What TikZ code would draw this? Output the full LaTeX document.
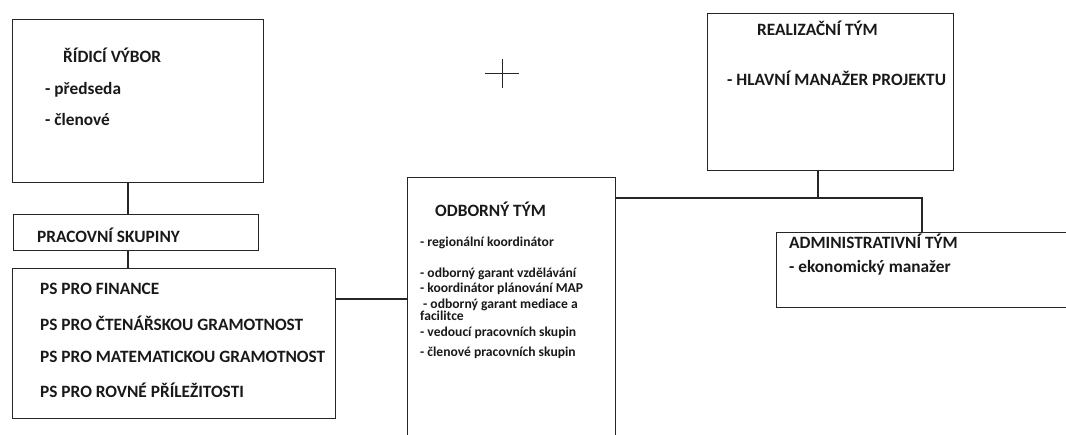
\documentclass[tikz,border=0pt]{standalone}
\usepackage{fontspec}
\setmainfont{Carlito}
\begin{document}
\begin{tikzpicture}[x=1pt,y=-1pt,
  box/.style={draw=black!85, line width=1.2pt, inner sep=0pt, anchor=north west},
  conn/.style={draw=black!85, line width=1.2pt},
  lbl/.style={inner sep=0pt, anchor=base west, font=\fontsize{17.3}{19}\selectfont\bfseries, text=black!90},
  sm/.style={inner sep=0pt, anchor=base west, font=\fontsize{13.6}{15}\selectfont\bfseries, text=black!90}]
\useasboundingbox (0,0) rectangle (1066,434);
\clip (0,0) rectangle (1066,434);
% boxes
\node[box, minimum width=251pt, minimum height=163pt] (rv) at (12,19) {};
\node[box, minimum width=245pt, minimum height=36pt] (psk) at (13,214) {};
\node[box, minimum width=323pt, minimum height=150pt] (ps) at (12,268) {};
\node[box, minimum width=208pt, minimum height=300pt] (odb) at (407,177) {};
\node[box, minimum width=246pt, minimum height=157pt] (real) at (707,13) {};
\node[box, minimum width=320pt, minimum height=75pt] (adm) at (776,232) {};
% texts
\node[lbl] (t1) at (63,62) {ŘÍDICÍ VÝBOR};
\node[lbl] (t2) at (45,94) {- předseda};
\node[lbl] (t3) at (45,125) {- členové};
\node[lbl] (t4) at (37,242) {PRACOVNÍ SKUPINY};
\node[lbl] (t5) at (40,294) {PS PRO FINANCE};
\node[lbl] (t6) at (40,330) {PS PRO ČTENÁŘSKOU GRAMOTNOST};
\node[lbl] (t7) at (40,362) {PS PRO MATEMATICKOU GRAMOTNOST};
\node[lbl] (t8) at (40,397) {PS PRO ROVNÉ PŘÍLEŽITOSTI};
\node[lbl] (t9) at (435,216) {ODBORNÝ TÝM};
\node[sm] (s1) at (420,246) {- regionální koordinátor};
\node[sm] (s2) at (420,277) {- odborný garant vzdělávání};
\node[sm] (s3) at (420,292) {- koordinátor plánování MAP};
\node[sm] (s4) at (423,308) {- odborný garant mediace a};
\node[sm] (s5) at (420,320) {facilitce};
\node[sm] (s6) at (420,336) {- vedoucí pracovních skupin};
\node[sm] (s7) at (420,356) {- členové pracovních skupin};
\node[lbl] (t10) at (757,35) {REALIZAČNÍ TÝM};
\node[lbl] (t11) at (727,85) {- HLAVNÍ MANAŽER PROJEKTU};
\node[lbl] (t12) at (789,248) {ADMINISTRATIVNÍ TÝM};
\node[lbl] (t13) at (789,272) {- ekonomický manažer};
% connectors
\coordinate (c1) at (128,0);
\coordinate (c2) at (0,299);
\coordinate (c3) at (0,198);
\coordinate (c4) at (922,0);
\coordinate (c5) at (818,0);
\draw[conn] (rv.south -| c1) -- (psk.north -| c1);
\draw[conn] (psk.south -| c1) -- (ps.north -| c1);
\draw[conn] (ps.east |- c2) -- (odb.west |- c2);
\draw[conn] (odb.east |- c3) -| (adm.north -| c4);
\draw[conn] (real.south -| c5) -- (c5 |- c3);
% cross mark
\draw[conn, line width=1pt] (485,73) -- (519,73);
\draw[conn, line width=1pt] (502,59) -- (502,88);
\end{tikzpicture}
\end{document}
